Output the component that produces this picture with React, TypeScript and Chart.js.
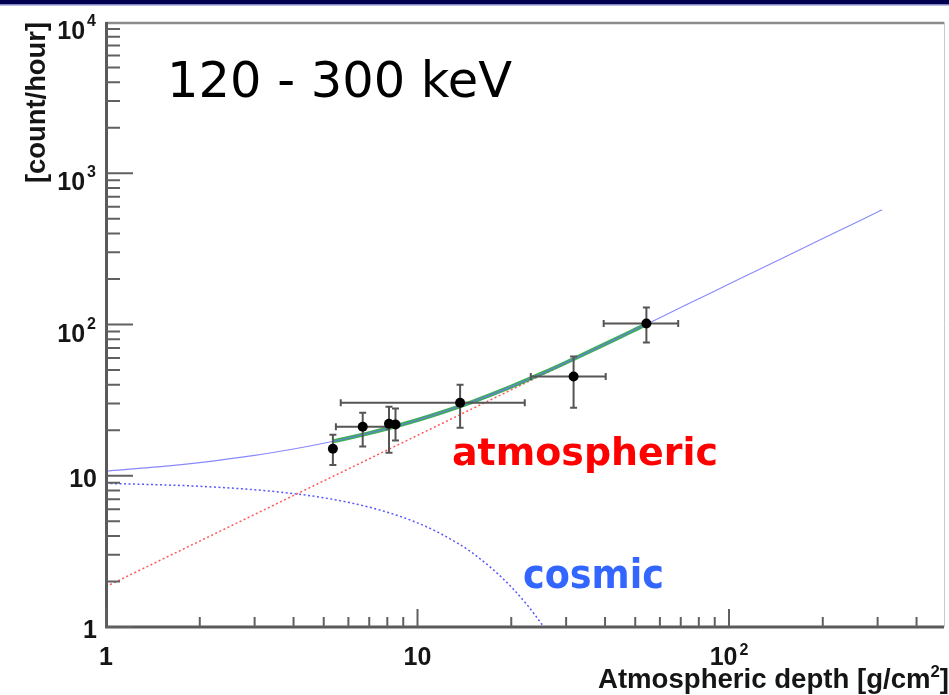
import { useEffect, useRef } from "react";
import { Chart, registerables } from "chart.js";

Chart.register(...registerables);

// Measured count rates (120 - 300 keV) versus atmospheric depth
const pointDepth = [5.35, 6.67, 8.1, 8.5, 13.7, 31.7, 54.3];
const pointRate = [15.1, 21.1, 22.1, 21.8, 30.4, 45.3, 101.6];
const rateLow = [11.8, 15.6, 14.2, 17.1, 20.8, 28.2, 76];
const rateHigh = [18.7, 26.1, 28.6, 27.8, 40, 61.4, 129.6];
const depthLow = [5.35, 5.47, 8.1, 8.5, 5.67, 23.1, 39.6];
const depthHigh = [5.35, 8.0, 8.1, 8.5, 22.1, 40.2, 68.7];

// Model curves: total = cosmic + atmospheric
const totalDepth = [1, 1.5, 2, 3, 4, 5, 6, 7, 8, 10, 12, 15, 20, 25, 30, 40, 50, 60, 80, 100, 150, 200, 310];
const totalRate = [10.75, 11.49, 12.22, 13.63, 15.02, 16.4, 17.77, 19.15, 20.54, 23.38, 26.29, 30.84, 38.84, 47.3, 56.08, 74.16, 92.54, 111, 148, 185, 277.5, 370, 573];

const cosmicDepth = [1, 1.5, 2, 3, 4, 5, 6, 7, 8, 10, 12, 15, 20, 25, 30];
const cosmicRate = [8.9, 8.71, 8.52, 8.08, 7.62, 7.15, 6.67, 6.2, 5.74, 4.88, 4.09, 3.09, 1.84, 1.05, 0.575];

const atmDepth = [1, 2, 5, 10, 20, 30];
const atmRate = [1.85, 3.7, 9.25, 18.5, 37, 55.5];

const fitDepth = [5.35, 6, 7, 8, 10, 12, 15, 20, 25, 30, 40, 50, 54.3];
const fitRate = [16.88, 17.77, 19.15, 20.54, 23.38, 26.29, 30.84, 38.84, 47.3, 56.08, 74.16, 92.54, 100.5];

// Axis labels
const xTickValues = [1, 10, 100];
const xTickBase = ["1", "10", "10"];
const xTickSup = ["", "", "2"];
const yTickValues = [1, 10, 100, 1000, 10000];
const yTickBase = ["1", "10", "10", "10", "10"];
const yTickSup = ["", "", "2", "3", "4"];

const X_MIN = 1;
const X_MAX = 490;
const Y_MIN = 1;
const Y_MAX = 10000;

const AXIS_FONT = '"Liberation Sans", Arial, Helvetica, sans-serif';
const NOTE_FONT = '"DejaVu Sans", Verdana, sans-serif';

const pts = (xs: number[], ys: number[]) => xs.map((x, i) => ({ x, y: ys[i] }));

function fitText(ctx: CanvasRenderingContext2D, text: string, x: number, y: number, width: number) {
  const w = ctx.measureText(text).width;
  ctx.save();
  ctx.translate(x, y);
  ctx.scale(width / w, 1);
  ctx.textAlign = "left";
  ctx.fillText(text, 0, 0);
  ctx.restore();
}

const banner = {
  id: "banner",
  beforeDraw(chart: any) {
    const ctx = chart.ctx as CanvasRenderingContext2D;
    ctx.save();
    ctx.fillStyle = "#ffffff";
    ctx.fillRect(0, 0, chart.width, chart.height);
    ctx.fillStyle = "#00004e";
    ctx.fillRect(0, 0, chart.width, 4);
    ctx.fillStyle = "#8080c8";
    ctx.fillRect(0, 4, chart.width, 1.5);
    ctx.restore();
  },
};

const errorBars = {
  id: "errorBars",
  beforeDatasetDraw(chart: any, args: any) {
    if (args.index !== 0) return;
    const ctx = chart.ctx as CanvasRenderingContext2D;
    const { x, y } = chart.scales;
    ctx.save();
    ctx.strokeStyle = "#555555";
    ctx.lineWidth = 2;
    const cap = 3.5;
    pointDepth.forEach((d, i) => {
      const px = x.getPixelForValue(d);
      const py = y.getPixelForValue(pointRate[i]);
      const yl = y.getPixelForValue(rateLow[i]);
      const yh = y.getPixelForValue(rateHigh[i]);
      ctx.beginPath();
      ctx.moveTo(px, yl);
      ctx.lineTo(px, yh);
      ctx.moveTo(px - cap, yl);
      ctx.lineTo(px + cap, yl);
      ctx.moveTo(px - cap, yh);
      ctx.lineTo(px + cap, yh);
      if (depthHigh[i] > depthLow[i]) {
        const xl = x.getPixelForValue(depthLow[i]);
        const xh = x.getPixelForValue(depthHigh[i]);
        ctx.moveTo(xl, py);
        ctx.lineTo(xh, py);
        ctx.moveTo(xl, py - cap);
        ctx.lineTo(xl, py + cap);
        ctx.moveTo(xh, py - cap);
        ctx.lineTo(xh, py + cap);
      }
      ctx.stroke();
    });
    ctx.restore();
  },
};

const frame = {
  id: "frame",
  afterDraw(chart: any) {
    const ctx = chart.ctx as CanvasRenderingContext2D;
    const { left, top, right, bottom } = chart.chartArea;
    const { x, y } = chart.scales;
    ctx.save();

    // box
    ctx.strokeStyle = "#8c8c8c";
    ctx.lineWidth = 2.5;
    ctx.beginPath();
    ctx.moveTo(left, top + 1);
    ctx.lineTo(right, top + 1);
    ctx.stroke();
    ctx.strokeStyle = "#c8c8c8";
    ctx.lineWidth = 1;
    ctx.beginPath();
    ctx.moveTo(right + 0.5, top);
    ctx.lineTo(right + 0.5, bottom);
    ctx.stroke();
    ctx.strokeStyle = "#5a5a5a";
    ctx.lineWidth = 3;
    ctx.beginPath();
    ctx.moveTo(left + 0.5, top);
    ctx.lineTo(left + 0.5, bottom + 1.5);
    ctx.moveTo(left, bottom);
    ctx.lineTo(right, bottom);
    ctx.stroke();

    // ticks (drawn inward)
    ctx.strokeStyle = "#606060";
    ctx.lineWidth = 2;
    ctx.beginPath();
    for (let e = 0; e < 4; e++) {
      for (let m = 1; m <= 9; m++) {
        const v = m * Math.pow(10, e);
        if (v < Y_MIN || v > Y_MAX) continue;
        const py = y.getPixelForValue(v);
        ctx.moveTo(left, py);
        ctx.lineTo(left + (m === 1 ? 27 : 14), py);
      }
    }
    for (let e = 0; e < 3; e++) {
      for (let m = 1; m <= 9; m++) {
        const v = m * Math.pow(10, e);
        if (v < X_MIN || v > X_MAX) continue;
        const px = x.getPixelForValue(v);
        ctx.moveTo(px, bottom);
        ctx.lineTo(px, bottom - (m === 1 ? 18 : 10));
      }
    }
    ctx.stroke();

    // y tick labels
    ctx.fillStyle = "#151515";
    ctx.textBaseline = "alphabetic";
    yTickValues.forEach((v, i) => {
      const py = y.getPixelForValue(v);
      const sup = yTickSup[i];
      if (sup) {
        ctx.font = `bold 16px ${AXIS_FONT}`;
        ctx.textAlign = "right";
        ctx.fillText(sup, 96, py + 4);
        const sw = ctx.measureText(sup).width;
        ctx.font = `bold 25px ${AXIS_FONT}`;
        ctx.fillText(yTickBase[i], 96 - sw - 2, py + 17);
      } else {
        ctx.font = `bold 25px ${AXIS_FONT}`;
        ctx.textAlign = "right";
        ctx.fillText(yTickBase[i], 97, py + 11);
      }
    });

    // x tick labels
    xTickValues.forEach((v, i) => {
      const px = x.getPixelForValue(v);
      const sup = xTickSup[i];
      ctx.font = `bold 25px ${AXIS_FONT}`;
      const bw = ctx.measureText(xTickBase[i]).width;
      ctx.textAlign = "left";
      if (sup) {
        ctx.font = `bold 16px ${AXIS_FONT}`;
        const sw = ctx.measureText(sup).width;
        const x0 = px - (bw + 2 + sw) / 2;
        ctx.fillText(sup, x0 + bw + 2, 655);
        ctx.font = `bold 25px ${AXIS_FONT}`;
        ctx.fillText(xTickBase[i], x0, 665);
      } else {
        ctx.fillText(xTickBase[i], px - bw / 2, 665);
      }
    });

    // x axis title, right aligned to the frame
    ctx.font = `bold 28px ${AXIS_FONT}`;
    const t1 = "Atmospheric depth [g/cm";
    const t2 = "]";
    const w1 = ctx.measureText(t1).width;
    const w2 = ctx.measureText(t2).width;
    ctx.font = `bold 17px ${AXIS_FONT}`;
    const ws = ctx.measureText("2").width;
    const total = w1 + ws + w2;
    const target = 351;
    const s = target / total;
    ctx.save();
    ctx.translate(949 - target, 688);
    ctx.scale(s, 1);
    ctx.textAlign = "left";
    ctx.font = `bold 28px ${AXIS_FONT}`;
    ctx.fillText(t1, 0, 0);
    ctx.font = `bold 17px ${AXIS_FONT}`;
    ctx.fillText("2", w1, -11);
    ctx.font = `bold 28px ${AXIS_FONT}`;
    ctx.fillText(t2, w1 + ws, 0);
    ctx.restore();

    // y axis title
    ctx.save();
    ctx.translate(38, 183);
    ctx.rotate(-Math.PI / 2);
    ctx.font = `bold 27px ${AXIS_FONT}`;
    ctx.textBaseline = "middle";
    fitText(ctx, "[count/hour]", 0, 0, 161);
    ctx.restore();

    // annotations
    ctx.textBaseline = "alphabetic";
    ctx.fillStyle = "#000000";
    ctx.font = `50px ${NOTE_FONT}`;
    fitText(ctx, "120 - 300 keV", 167, 97, 345);
    ctx.fillStyle = "#ff0000";
    ctx.font = `bold 37px ${NOTE_FONT}`;
    fitText(ctx, "atmospheric", 452, 465, 266);
    ctx.fillStyle = "#3366ff";
    ctx.font = `bold 40px ${NOTE_FONT}`;
    fitText(ctx, "cosmic", 523, 588, 141);

    ctx.restore();
  },
};

export default function App() {
  const ref = useRef<HTMLCanvasElement>(null);

  useEffect(() => {
    document.body.style.margin = "0";
    const canvas = ref.current as HTMLCanvasElement;
    const chart = new Chart(canvas, {
      type: "scatter",
      data: {
        datasets: [
          {
            label: "data",
            data: pts(pointDepth, pointRate),
            backgroundColor: "#000000",
            borderWidth: 0,
            pointRadius: 5,
            showLine: false,
          },
          {
            label: "total",
            data: pts(totalDepth, totalRate),
            showLine: true,
            borderColor: "rgba(115,115,250,0.85)",
            borderWidth: 1.1,
            pointRadius: 0,
            cubicInterpolationMode: "monotone",
          },
          {
            label: "fit",
            data: pts(fitDepth, fitRate),
            showLine: true,
            borderColor: "rgba(40,165,70,0.9)",
            borderWidth: 4,
            pointRadius: 0,
            cubicInterpolationMode: "monotone",
          },
          {
            label: "atmospheric",
            data: pts(atmDepth, atmRate),
            showLine: true,
            borderColor: "rgba(255,70,70,0.9)",
            borderWidth: 1.5,
            borderDash: [2, 2.5],
            pointRadius: 0,
          },
          {
            label: "cosmic",
            data: pts(cosmicDepth, cosmicRate),
            showLine: true,
            borderColor: "rgba(70,70,250,0.9)",
            borderWidth: 1.5,
            borderDash: [2, 2.5],
            pointRadius: 0,
            cubicInterpolationMode: "monotone",
          },
        ],
      },
      options: {
        responsive: false,
        animation: false,
        devicePixelRatio: 1,
        events: [],
        layout: { padding: { left: 106, top: 22, right: 1, bottom: 68 } },
        scales: {
          x: { type: "logarithmic", min: X_MIN, max: X_MAX, display: false },
          y: { type: "logarithmic", min: Y_MIN, max: Y_MAX, display: false },
        },
        plugins: { legend: { display: false }, tooltip: { enabled: false } },
      },
      plugins: [banner, errorBars, frame],
    } as any);
    return () => chart.destroy();
  }, []);

  return (
    <div style={{ width: 949, height: 695 }}>
      <canvas ref={ref} width={949} height={695} style={{ display: "block" }} />
    </div>
  );
}
